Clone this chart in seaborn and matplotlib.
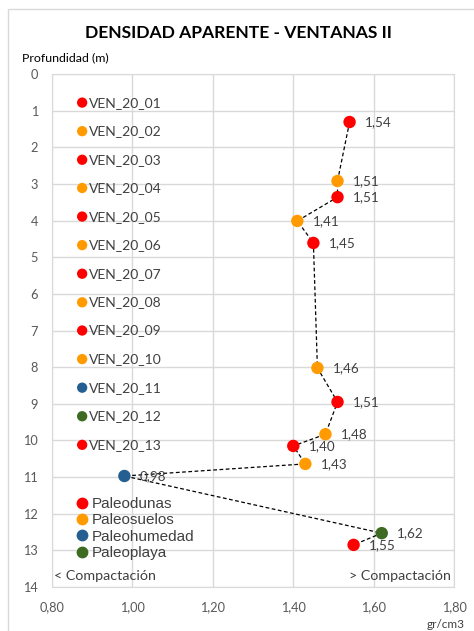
import pandas as pd
import seaborn as sns
import matplotlib.pyplot as plt
from matplotlib.patches import Rectangle
from matplotlib.ticker import FuncFormatter

# datos
densidad = [1.54, 1.51, 1.51, 1.41, 1.45, 1.46, 1.51, 1.48, 1.40, 1.43, 0.98, 1.62, 1.55]
profundidad = [1.31, 2.92, 3.36, 4.01, 4.61, 8.02, 8.95, 9.83, 10.15, 10.64, 10.97, 12.53, 12.85]
unidad = ['Paleodunas', 'Paleosuelos', 'Paleodunas', 'Paleosuelos', 'Paleodunas',
          'Paleosuelos', 'Paleodunas', 'Paleosuelos', 'Paleodunas', 'Paleosuelos',
          'Paleohumedad', 'Paleoplaya', 'Paleodunas']

muestras = ['VEN_20_01', 'VEN_20_02', 'VEN_20_03', 'VEN_20_04', 'VEN_20_05', 'VEN_20_06',
            'VEN_20_07', 'VEN_20_08', 'VEN_20_09', 'VEN_20_10', 'VEN_20_11', 'VEN_20_12',
            'VEN_20_13']
muestra_prof = [0.78, 1.56, 2.34, 3.11, 3.89, 4.67, 5.45, 6.23, 7.00, 7.78, 8.56, 9.34, 10.12]
muestra_x = [0.875] * 13
muestra_unidad = ['Paleodunas', 'Paleosuelos', 'Paleodunas', 'Paleosuelos', 'Paleodunas',
                  'Paleosuelos', 'Paleodunas', 'Paleosuelos', 'Paleodunas', 'Paleosuelos',
                  'Paleohumedad', 'Paleoplaya', 'Paleodunas']

orden = ['Paleodunas', 'Paleosuelos', 'Paleohumedad', 'Paleoplaya']
colores = {'Paleodunas': '#FF0000', 'Paleosuelos': '#FF9A00',
           'Paleohumedad': '#255E91', 'Paleoplaya': '#3D6B21'}

df = pd.DataFrame({'densidad': densidad, 'profundidad': profundidad, 'unidad': unidad})
dm = pd.DataFrame({'x': muestra_x, 'prof': muestra_prof, 'unidad': muestra_unidad, 'muestra': muestras})

sns.set_style('white')
plt.rcParams['font.family'] = ['Lato', 'DejaVu Sans']
gris = '#404040'

fig = plt.figure(figsize=(4.74, 6.31), dpi=100)
ax = fig.add_axes([0.1097, 0.0697, 0.8484, 0.8130])

sns.lineplot(data=df, x='densidad', y='profundidad', sort=False, estimator=None,
             color='black', lw=0.9, dashes=False, linestyle=(0, (3, 2)), ax=ax, zorder=2)
sns.scatterplot(data=df, x='densidad', y='profundidad', hue='unidad', hue_order=orden,
                palette=colores, s=80, edgecolor='none', ax=ax, zorder=3, legend=False)
sns.scatterplot(data=dm, x='x', y='prof', hue='unidad', hue_order=orden,
                palette=colores, s=55, edgecolor='none', ax=ax, zorder=3, legend=False)

for xv, yv in zip(densidad, profundidad):
    ax.annotate(f'{xv:.2f}'.replace('.', ','), (xv, yv), xytext=(11, 0),
                textcoords='offset points', va='center', ha='left', fontsize=9.7, color=gris)
for xv, yv, t in zip(muestra_x, muestra_prof, muestras):
    ax.annotate(t, (xv, yv), xytext=(5, 0), textcoords='offset points',
                va='center', ha='left', fontsize=10, color=gris)

ax.set_xlim(0.8, 1.8)
ax.set_ylim(14, 0)
ax.set_xticks([0.8, 1.0, 1.2, 1.4, 1.6, 1.8])
ax.set_yticks(range(0, 15))
ax.xaxis.set_major_formatter(FuncFormatter(lambda v, p: f'{v:.2f}'.replace('.', ',')))
ax.tick_params(length=0, labelsize=9.2, labelcolor='#595959')
ax.tick_params(axis='y', pad=10)
ax.tick_params(axis='x', pad=10)
ax.grid(True, color='#D9D9D9', lw=1)
for s in ax.spines.values():
    s.set_color('#D9D9D9')
ax.set_xlabel('')
ax.set_ylabel('')

handles = [plt.Line2D([], [], marker='o', ls='none', markersize=8.5, color=colores[u],
                      markeredgecolor='none') for u in orden]
ax.legend(handles, orden, loc='upper left', bbox_to_anchor=(0.04, 0.19), frameon=False,
          borderpad=0, handlelength=0.8, handletextpad=0.25, labelspacing=0.15,
          prop={'family': 'Liberation Sans', 'size': 11}, labelcolor=gris)

ax.text(0.004, 0.0214, '< Compactación', transform=ax.transAxes, ha='left', va='center',
        fontsize=10.3, color=gris)
ax.text(0.9925, 0.0214, '> Compactación', transform=ax.transAxes, ha='right', va='center',
        fontsize=10.3, color=gris)

fig.text(0.504, 0.948, 'DENSIDAD APARENTE - VENTANAS II', ha='center', va='center',
         fontsize=12.6, fontweight='bold', color='black')
fig.text(0.046, 0.908, 'Profundidad (m)', ha='left', va='center', fontsize=8.9, color='black')
fig.text(0.981, 0.011, 'gr/cm3', ha='right', va='center', fontsize=8.5, color=gris)

fig.add_artist(Rectangle((8 / 474, -0.1), 1.2, 1.1 - 9 / 631, transform=fig.transFigure,
                         fill=False, edgecolor='#D9D9D9', lw=1))

fig.savefig('out.png', dpi=100)
